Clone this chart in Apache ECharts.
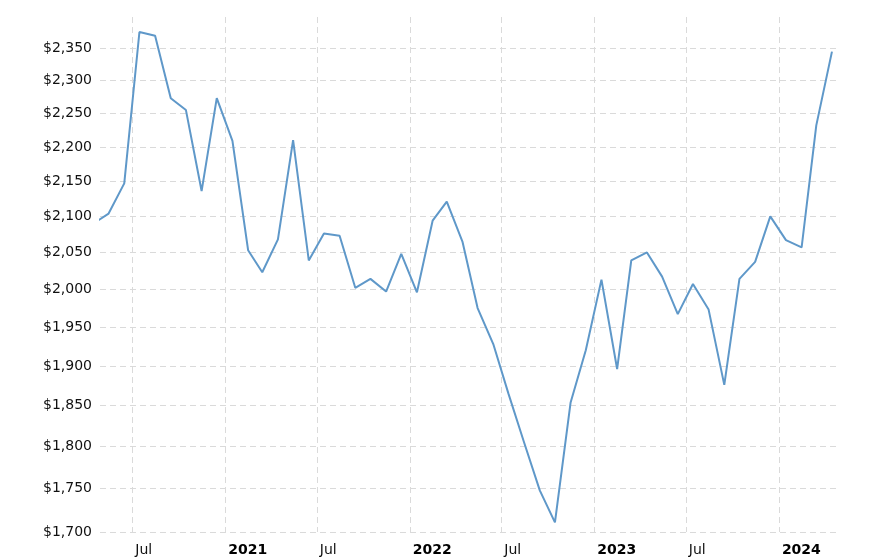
<!DOCTYPE html>
<html>
<head>
<meta charset="utf-8">
<script src="https://cdn.jsdelivr.net/npm/echarts@6/dist/echarts.min.js"></script>
<style>
html,body{margin:0;padding:0;background:#fff;}
#chart{width:888px;height:560px;}
</style>
</head>
<body>
<div id="chart"></div>
<script>
var dates = [
  '2020-04-15','2020-05-15','2020-06-15','2020-07-15','2020-08-15','2020-09-15','2020-10-15','2020-11-15','2020-12-15',
  '2021-01-15','2021-02-15','2021-03-15','2021-04-15','2021-05-15','2021-06-15','2021-07-15','2021-08-15','2021-09-15','2021-10-15','2021-11-15','2021-12-15',
  '2022-01-15','2022-02-15','2022-03-15','2022-04-15','2022-05-15','2022-06-15','2022-07-15','2022-08-15','2022-09-15','2022-10-15','2022-11-15','2022-12-15',
  '2023-01-15','2023-02-15','2023-03-15','2023-04-15','2023-05-15','2023-06-15','2023-07-15','2023-08-15','2023-09-15','2023-10-15','2023-11-15','2023-12-15',
  '2024-01-15','2024-02-15','2024-03-15','2024-04-15'
];
var prices = [
  2090, 2104, 2147, 2376, 2370, 2273, 2255, 2136, 2273,
  2209, 2053, 2023, 2068, 2210, 2039, 2076, 2073, 2002, 2014, 1997, 2048,
  1996, 2094, 2121, 2065, 1975, 1928, 1865, 1805, 1748, 1711, 1854, 1920,
  2013, 1896, 2039, 2050, 2017, 1967, 2007, 1973, 1876, 2014, 2037, 2100,
  2067, 2057, 2232, 2345
];
var yTicks = [1700, 1750, 1800, 1850, 1900, 1950, 2000, 2050, 2100, 2150, 2200, 2250, 2300, 2350];
var xTicks = ['2020-07-01','2021-01-01','2021-07-01','2022-01-01','2022-07-01','2023-01-01','2023-07-01','2024-01-01'];
var xMin = '2020-04-28', xMax = '2024-04-23';
var yMin = 1700, yMax = 2400;
var monthNames = ['Jan','Feb','Mar','Apr','May','Jun','Jul','Aug','Sep','Oct','Nov','Dec'];

function ts(s) { return Date.parse(s + 'T00:00:00Z'); }
var seriesData = dates.map(function (d, i) { return [ts(d), prices[i]]; });
var xTickValues = xTicks.map(ts);

var chart = echarts.init(document.getElementById('chart'), null, {renderer: 'canvas'});
var gridLine = {show: true, lineStyle: {color: '#dadada', type: [6, 4], width: 1}};
chart.setOption({
  animation: false,
  backgroundColor: '#ffffff',
  grid: {left: 100, right: 52, top: 17, bottom: 28, containLabel: false},
  xAxis: {
    type: 'value',
    min: ts(xMin),
    max: ts(xMax),
    scale: true,
    axisLine: {show: false},
    axisTick: {show: false, customValues: xTickValues},
    splitLine: gridLine,
    axisLabel: {
      customValues: xTickValues,
      showMinLabel: true,
      showMaxLabel: true,
      align: 'left',
      padding: [0, 0, 0, 3],
      margin: 11,
      fontFamily: 'DejaVu Sans',
      fontSize: 14,
      color: '#111',
      formatter: function (v) {
        var d = new Date(v);
        if (d.getUTCMonth() === 0) return '{b|' + d.getUTCFullYear() + '}';
        return monthNames[d.getUTCMonth()];
      },
      rich: {b: {fontWeight: 'bold', fontFamily: 'DejaVu Sans', fontSize: 14, color: '#000'}}
    }
  },
  yAxis: {
    type: 'log',
    min: yMin,
    max: yMax,
    axisLine: {show: false},
    axisTick: {show: false, customValues: yTicks},
    splitLine: gridLine,
    axisLabel: {
      customValues: yTicks,
      margin: 8,
      fontFamily: 'DejaVu Sans',
      fontSize: 14,
      color: '#111',
      formatter: function (v) {
        return '$' + Math.round(v).toLocaleString('en-US');
      }
    }
  },
  series: [{
    type: 'line',
    data: seriesData,
    showSymbol: false,
    symbol: 'none',
    clip: true,
    lineStyle: {color: '#5f98c9', width: 2},
    itemStyle: {color: '#5f98c9'}
  }]
});
</script>
</body>
</html>
